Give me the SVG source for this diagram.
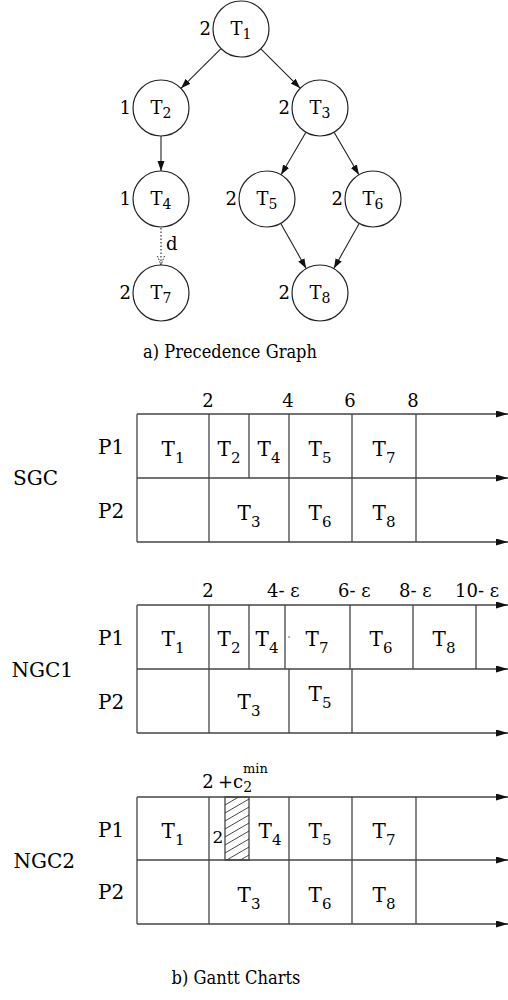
<svg xmlns="http://www.w3.org/2000/svg" width="508" height="1000" viewBox="0 0 508 1000">
<style>
text{font-family:"DejaVu Serif","Liberation Serif","Noto Serif",serif;fill:#000}
.nd circle{fill:#fff;stroke:#222;stroke-width:1.2}
.nt{font-size:18px;text-anchor:middle}
.w{font-size:18px;text-anchor:end}
.e{stroke:#222;stroke-width:1.1;fill:none}
.gl{stroke:#444;stroke-width:1.3;fill:none}
.tl{font-size:20px;text-anchor:middle}
.tk{font-size:18px}
.lb{font-size:20px}
.cap{font-size:19px;text-anchor:middle}
</style>
<defs>
<marker id="ah" markerUnits="userSpaceOnUse" markerWidth="11" markerHeight="8" refX="10" refY="3.5" orient="auto"><path d="M0,0 L10,3.5 L0,7 z" fill="#111"/></marker>
<marker id="ahd" markerUnits="userSpaceOnUse" markerWidth="11" markerHeight="9" refX="9" refY="4" orient="auto"><path d="M0,0.5 L9,4 L0,7.5" fill="none" stroke="#222" stroke-width="1" stroke-dasharray="1.5 1.5"/></marker>
<marker id="ga" markerUnits="userSpaceOnUse" markerWidth="13" markerHeight="8" refX="12" refY="3.5" orient="auto"><path d="M0,0 L12,3.5 L0,7 z" fill="#111"/></marker>
<clipPath id="hc"><rect x="225" y="797" width="24" height="63"/></clipPath>
</defs>

<g id="edges">
<line class="e" x1="221" y1="48.7" x2="181" y2="88.3" marker-end="url(#ah)"/>
<line class="e" x1="260.8" y1="48.8" x2="300.2" y2="88.2" marker-end="url(#ah)"/>
<line class="e" x1="161" y1="136" x2="161" y2="171" marker-end="url(#ah)"/>
<line class="e" x1="305.9" y1="132.2" x2="281.1" y2="174.8" marker-end="url(#ah)"/>
<line class="e" x1="334.1" y1="132.2" x2="358.9" y2="174.8" marker-end="url(#ah)"/>
<line class="e" x1="280.8" y1="223.4" x2="306.2" y2="268.6" marker-end="url(#ah)"/>
<line class="e" x1="359.2" y1="223.4" x2="333.8" y2="268.6" marker-end="url(#ah)"/>
<line class="e" x1="161" y1="228" x2="161" y2="265" stroke-dasharray="1.5 2" marker-end="url(#ahd)"/>
<text x="166" y="250" font-size="18">d</text>
</g>

<g id="T1" class="nd"><circle cx="241" cy="29" r="28"/><text class="nt" x="241" y="35">T<tspan font-size="14" dy="4">1</tspan></text><text class="w" x="211" y="35">2</text></g>
<g id="T2" class="nd"><circle cx="161" cy="108" r="28"/><text class="nt" x="161" y="114">T<tspan font-size="14" dy="4">2</tspan></text><text class="w" x="131" y="114">1</text></g>
<g id="T3" class="nd"><circle cx="320" cy="108" r="28"/><text class="nt" x="320" y="114">T<tspan font-size="14" dy="4">3</tspan></text><text class="w" x="290" y="114">2</text></g>
<g id="T4" class="nd"><circle cx="161" cy="199" r="28"/><text class="nt" x="161" y="205">T<tspan font-size="14" dy="4">4</tspan></text><text class="w" x="131" y="205">1</text></g>
<g id="T5" class="nd"><circle cx="267" cy="199" r="28"/><text class="nt" x="267" y="205">T<tspan font-size="14" dy="4">5</tspan></text><text class="w" x="237" y="205">2</text></g>
<g id="T6" class="nd"><circle cx="373" cy="199" r="28"/><text class="nt" x="373" y="205">T<tspan font-size="14" dy="4">6</tspan></text><text class="w" x="343" y="205">2</text></g>
<g id="T7" class="nd"><circle cx="161" cy="293" r="28"/><text class="nt" x="161" y="299">T<tspan font-size="14" dy="4">7</tspan></text><text class="w" x="131" y="299">2</text></g>
<g id="T8" class="nd"><circle cx="320" cy="293" r="28"/><text class="nt" x="320" y="299">T<tspan font-size="14" dy="4">8</tspan></text><text class="w" x="290" y="299">2</text></g>

<text class="cap" x="230" y="358" textLength="174" lengthAdjust="spacingAndGlyphs">a) Precedence Graph</text>

<g id="SGC">
<text class="lb" x="58" y="485" text-anchor="end">SGC</text>
<text class="lb" x="98" y="454">P1</text>
<text class="lb" x="98" y="518">P2</text>
<g class="gl">
<line x1="137" y1="414" x2="508" y2="414" marker-end="url(#ga)"/>
<line x1="137" y1="478" x2="508" y2="478" marker-end="url(#ga)"/>
<line x1="137" y1="542" x2="508" y2="542" marker-end="url(#ga)"/>
<line x1="137" y1="414" x2="137" y2="542"/>
<line x1="209" y1="414" x2="209" y2="542"/>
<line x1="249" y1="414" x2="249" y2="478"/>
<line x1="289" y1="414" x2="289" y2="542"/>
<line x1="352" y1="414" x2="352" y2="542"/>
<line x1="416" y1="414" x2="416" y2="542"/>
</g>
<text class="tk" x="208" y="407" text-anchor="middle">2</text>
<text class="tk" x="288" y="407" text-anchor="middle">4</text>
<text class="tk" x="350" y="407" text-anchor="middle">6</text>
<text class="tk" x="413" y="407" text-anchor="middle">8</text>
<text class="tl" x="173" y="456">T<tspan font-size="15" dy="7">1</tspan></text>
<text class="tl" x="229" y="456">T<tspan font-size="15" dy="7">2</tspan></text>
<text class="tl" x="269" y="456">T<tspan font-size="15" dy="7">4</tspan></text>
<text class="tl" x="320" y="456">T<tspan font-size="15" dy="7">5</tspan></text>
<text class="tl" x="384" y="456">T<tspan font-size="15" dy="7">7</tspan></text>
<text class="tl" x="249" y="520">T<tspan font-size="15" dy="7">3</tspan></text>
<text class="tl" x="320" y="520">T<tspan font-size="15" dy="7">6</tspan></text>
<text class="tl" x="384" y="520">T<tspan font-size="15" dy="7">8</tspan></text>
</g>

<g id="NGC1">
<text class="lb" x="73" y="677" text-anchor="end">NGC1</text>
<text class="lb" x="98" y="645">P1</text>
<text class="lb" x="98" y="709">P2</text>
<g class="gl">
<line x1="137" y1="605" x2="508" y2="605" marker-end="url(#ga)"/>
<line x1="137" y1="669" x2="508" y2="669" marker-end="url(#ga)"/>
<line x1="137" y1="733" x2="508" y2="733" marker-end="url(#ga)"/>
<line x1="137" y1="605" x2="137" y2="733"/>
<line x1="209" y1="605" x2="209" y2="733"/>
<line x1="249" y1="605" x2="249" y2="669"/>
<line x1="285" y1="605" x2="285" y2="669"/>
<line x1="350" y1="605" x2="350" y2="669"/>
<line x1="413" y1="605" x2="413" y2="669"/>
<line x1="476" y1="605" x2="476" y2="669"/>
<line x1="289" y1="669" x2="289" y2="733"/>
<line x1="352" y1="669" x2="352" y2="733"/>
</g>
<circle cx="289" cy="637" r="0.7" fill="#333"/>
<text class="tk" x="208" y="597" text-anchor="middle">2</text>
<text class="tk" x="267" y="597">4- ε</text>
<text class="tk" x="338" y="597">6- ε</text>
<text class="tk" x="399" y="597">8- ε</text>
<text class="tk" x="455" y="597">10- ε</text>
<text class="tl" x="173" y="646">T<tspan font-size="15" dy="7">1</tspan></text>
<text class="tl" x="229" y="646">T<tspan font-size="15" dy="7">2</tspan></text>
<text class="tl" x="267" y="646">T<tspan font-size="15" dy="7">4</tspan></text>
<text class="tl" x="317" y="646">T<tspan font-size="15" dy="7">7</tspan></text>
<text class="tl" x="381" y="646">T<tspan font-size="15" dy="7">6</tspan></text>
<text class="tl" x="444" y="646">T<tspan font-size="15" dy="7">8</tspan></text>
<text class="tl" x="249" y="709">T<tspan font-size="15" dy="7">3</tspan></text>
<text class="tl" x="320" y="701">T<tspan font-size="15" dy="7">5</tspan></text>
</g>

<g id="NGC2">
<text class="lb" x="75" y="868" text-anchor="end">NGC2</text>
<text class="lb" x="98" y="837">P1</text>
<text class="lb" x="98" y="899">P2</text>
<g class="gl">
<line x1="137" y1="797" x2="508" y2="797" marker-end="url(#ga)"/>
<line x1="137" y1="860" x2="508" y2="860" marker-end="url(#ga)"/>
<line x1="137" y1="924" x2="508" y2="924" marker-end="url(#ga)"/>
<line x1="137" y1="797" x2="137" y2="924"/>
<line x1="209" y1="797" x2="209" y2="924"/>
<line x1="289" y1="797" x2="289" y2="924"/>
<line x1="352" y1="797" x2="352" y2="924"/>
<line x1="416" y1="797" x2="416" y2="924"/>
<rect x="225" y="797" width="24" height="63"/>
</g>
<g clip-path="url(#hc)" stroke="#333" stroke-width="0.9">
<line x1="225" y1="805" x2="249" y2="791"/>
<line x1="225" y1="813" x2="249" y2="799"/>
<line x1="225" y1="821" x2="249" y2="807"/>
<line x1="225" y1="829" x2="249" y2="815"/>
<line x1="225" y1="837" x2="249" y2="823"/>
<line x1="225" y1="845" x2="249" y2="831"/>
<line x1="225" y1="853" x2="249" y2="839"/>
<line x1="225" y1="861" x2="249" y2="847"/>
<line x1="225" y1="869" x2="249" y2="855"/>
<line x1="225" y1="877" x2="249" y2="863"/>
</g>
<text class="tk" x="208" y="788" text-anchor="middle">2</text>
<text class="tk" x="218" y="788">+c<tspan font-size="14" dy="4">2</tspan></text>
<text x="243" y="773" font-size="13">min</text>
<text x="218" y="843" font-size="17" text-anchor="middle">2</text>
<text class="tl" x="173" y="838">T<tspan font-size="15" dy="7">1</tspan></text>
<text class="tl" x="270" y="838">T<tspan font-size="15" dy="7">4</tspan></text>
<text class="tl" x="320" y="838">T<tspan font-size="15" dy="7">5</tspan></text>
<text class="tl" x="384" y="838">T<tspan font-size="15" dy="7">7</tspan></text>
<text class="tl" x="249" y="902">T<tspan font-size="15" dy="7">3</tspan></text>
<text class="tl" x="320" y="902">T<tspan font-size="15" dy="7">6</tspan></text>
<text class="tl" x="384" y="902">T<tspan font-size="15" dy="7">8</tspan></text>
</g>

<text class="cap" x="236" y="984" textLength="129" lengthAdjust="spacingAndGlyphs">b) Gantt Charts</text>
</svg>
